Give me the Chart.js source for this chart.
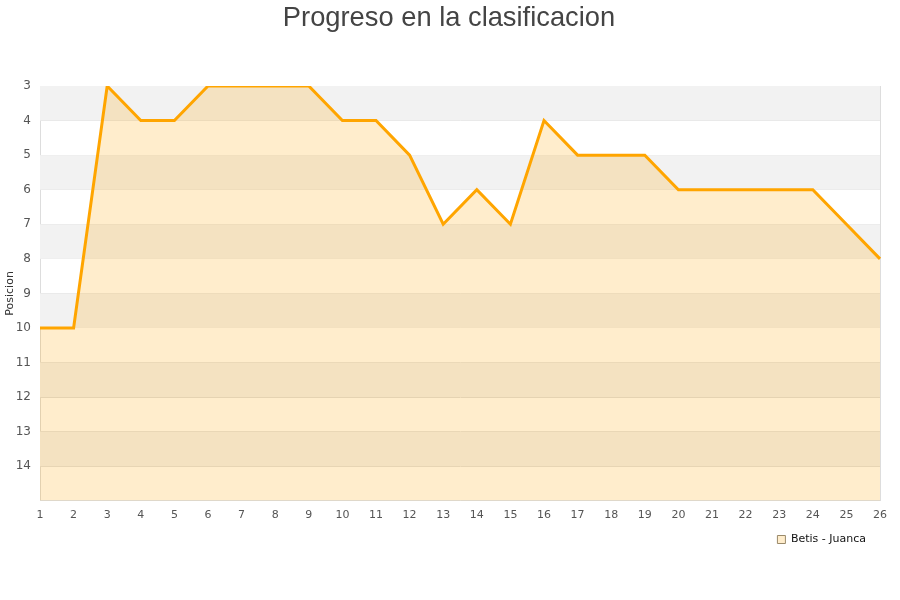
<!DOCTYPE html>
<html><head><meta charset="utf-8">
<script src="https://cdn.jsdelivr.net/npm/chart.js@4/dist/chart.umd.min.js"></script>
<style>html,body{margin:0;padding:0;background:#fff}#wrap{width:900px;height:600px}</style>
</head><body><div id="wrap"><canvas id="c" width="900" height="600"></canvas></div>
<script>
const jornadas = ["1","2","3","4","5","6","7","8","9","10","11","12","13","14","15","16","17","18","19","20","21","22","23","24","25","26"];
const posiciones = [10,10,3,4,4,3,3,3,3,4,4,5,7,6,7,4,5,5,5,6,6,6,6,6,7,8];
const seriesName = "Betis - Juanca";
const chartTitle = "Progreso en la clasificacion";
const yTitle = "Posicion";
const yMin = 3, yMax = 15;

const bands = {
  id: 'bands',
  beforeDatasetsDraw(chart) {
    const {ctx, chartArea, scales} = chart;
    const y = scales.y;
    ctx.save();
    for (let v = yMin; v < yMax; v++) {
      if ((v - yMin) % 2 === 0) {
        const p1 = y.getPixelForValue(v), p2 = y.getPixelForValue(v + 1);
        ctx.fillStyle = '#f2f2f2';
        ctx.fillRect(chartArea.left, Math.min(p1,p2), chartArea.right - chartArea.left, Math.abs(p2 - p1));
      }
    }
    ctx.strokeStyle = '#ddd';
    ctx.lineWidth = 1;
    ctx.beginPath();
    ctx.moveTo(Math.round(chartArea.right) + 0.5, chartArea.top);
    ctx.lineTo(Math.round(chartArea.right) + 0.5, chartArea.bottom);
    ctx.stroke();
    ctx.restore();
  }
};

const centeredTitle = {
  id: 'centeredTitle',
  afterDraw(chart) {
    const ctx = chart.ctx;
    ctx.save();
    ctx.fillStyle = '#444';
    ctx.font = '27.3px "Liberation Sans"';
    ctx.textAlign = 'center';
    ctx.textBaseline = 'alphabetic';
    ctx.fillText(chartTitle, chart.width / 2 - 1, 26);
    ctx.restore();
  }
};

new Chart(document.getElementById('c'), {
  type: 'line',
  data: {
    labels: jornadas,
    datasets: [{
      label: seriesName,
      data: posiciones,
      borderColor: '#FFA500',
      backgroundColor: 'rgba(255,165,0,0.2)',
      borderWidth: 3,
      pointRadius: 0,
      tension: 0,
      fill: {value: yMax}
    }]
  },
  options: {
    responsive: false,
    animation: false,
    layout: {padding: {left: 4, right: 20, top: 86, bottom: 45}},
    plugins: {
      title: {display: false},
      legend: {
        position: 'bottom', align: 'end',
        labels: {
          boxWidth: 8, boxHeight: 8, color: '#111', font: {family: 'DejaVu Sans', size: 11}, padding: 14,
          generateLabels(chart) {
            const items = Chart.defaults.plugins.legend.labels.generateLabels(chart);
            items.forEach(it => { it.lineWidth = 1; it.strokeStyle = '#9a8a6a'; it.fillStyle = 'rgba(255,165,0,0.2)'; });
            return items;
          }
        }
      },
      tooltip: {enabled: false}
    },
    scales: {
      x: {
        offset: false,
        grid: {display: false, drawTicks: false},
        border: {color: '#ddd'},
        ticks: {color: '#555', font: {family: 'DejaVu Sans', size: 11}, maxRotation: 0, autoSkip: false, padding: 8},
        afterFit(scale) { scale.height = scale.height - 10; }
      },
      y: {
        reverse: true, min: yMin, max: yMax,
        grid: {color: '#ddd', drawTicks: false, tickLength: 0},
        border: {color: '#ddd'},
        title: {display: true, text: yTitle, color: '#333', font: {family: 'DejaVu Sans', size: 11}, padding: 0},
        ticks: {stepSize: 1, color: '#555', font: {family: 'DejaVu Sans', size: 12}, padding: 9,
          callback: v => v === yMax ? '' : v},
        afterFit(scale) { scale.width = 36; }
      }
    }
  },
  plugins: [bands, centeredTitle]
});
</script></body></html>
